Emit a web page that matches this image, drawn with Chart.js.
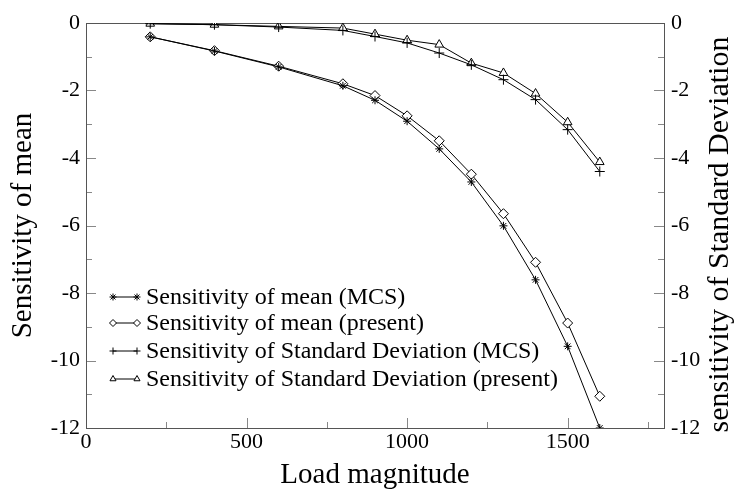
<!DOCTYPE html>
<html>
<head>
<meta charset="utf-8">
<script src="https://cdn.jsdelivr.net/npm/chart.js@4"></script>
<style>
  body { margin: 0; background: #fff; }
  #wrap { width: 736px; height: 495px; }
</style>
</head>
<body>
<div id="wrap"><canvas id="chart" width="736" height="495"></canvas></div>
<script>
const loads = [200, 400, 600, 800, 900, 1000, 1100, 1200, 1300, 1400, 1500, 1600];
const meanMCS = [-0.41, -0.83, -1.30, -1.86, -2.29, -2.91, -3.73, -4.71, -6.01, -7.61, -9.58, -12.0];
const meanPresent = [-0.41, -0.82, -1.28, -1.80, -2.15, -2.75, -3.49, -4.48, -5.65, -7.09, -8.89, -11.06];
const sdMCS = [-0.02, -0.05, -0.12, -0.22, -0.40, -0.59, -0.89, -1.24, -1.68, -2.27, -3.16, -4.40];
const sdPresent = [-0.02, -0.05, -0.10, -0.15, -0.33, -0.51, -0.64, -1.19, -1.48, -2.09, -2.94, -4.12];

const xTicks = [0, 500, 1000, 1500];
const yTicks = [-12, -10, -8, -6, -4, -2, 0];

const seriesLabels = [
  'Sensitivity of mean (MCS)',
  'Sensitivity of mean (present)',
  'Sensitivity of Standard Deviation (MCS)',
  'Sensitivity of Standard Deviation (present)'
];
const xTitle = 'Load magnitude';
const yTitle = 'Sensitivity of mean';
const y2Title = 'sensitivity of Standard Deviation';

const serif = "'Liberation Serif', 'DejaVu Serif', serif";

function pts(ys) {
  return loads.map((x, i) => ({ x: x, y: ys[i] }));
}

function makeSet(label, ys, style, radius, axis) {
  return {
    label: label,
    data: pts(ys),
    yAxisID: axis,
    borderColor: '#000',
    backgroundColor: '#fff',
    borderWidth: 1,
    pointStyle: style,
    pointRadius: radius,
    pointBorderColor: '#000',
    pointBackgroundColor: '#fff',
    pointBorderWidth: 1,
    tension: 0
  };
}

const datasets = [
  makeSet(seriesLabels[0], meanMCS, 'star', 4, 'y'),
  makeSet(seriesLabels[1], meanPresent, 'rectRot', 5, 'y'),
  makeSet(seriesLabels[2], sdMCS, 'cross', 5, 'y2'),
  makeSet(seriesLabels[3], sdPresent, 'triangle', 5, 'y2')
];

// frame, inward ticks, right title and the legend inside the plot
const decor = {
  id: 'decor',
  beforeDatasetsDraw(chart) {
    const ctx = chart.ctx;
    const a = chart.chartArea;
    const xs = chart.scales.x, ys = chart.scales.y;
    ctx.save();
    ctx.strokeStyle = '#888';
    ctx.lineWidth = 1;
    ctx.beginPath();
    for (let v = 250; v < 1800; v += 250) {
      const px = Math.round(xs.getPixelForValue(v)) + 0.5;
      const len = v % 500 === 0 ? 10 : 6;
      ctx.moveTo(px, a.bottom);
      ctx.lineTo(px, a.bottom - len);
    }
    for (let v = -11; v < 0; v++) {
      const py = Math.round(ys.getPixelForValue(v)) + 0.5;
      const len = v % 2 === 0 ? 10 : 6;
      ctx.moveTo(a.left, py);
      ctx.lineTo(a.left + len, py);
      ctx.moveTo(a.right, py);
      ctx.lineTo(a.right - len, py);
    }
    ctx.stroke();
    ctx.strokeStyle = '#555';
    ctx.strokeRect(Math.round(a.left) + 0.5, Math.round(a.top) + 0.5,
      Math.round(a.right - a.left), Math.round(a.bottom - a.top));
    ctx.restore();
  },
  afterDraw(chart) {
    const ctx = chart.ctx;
    const a = chart.chartArea;
    ctx.save();
    // right axis title, reading bottom to top
    ctx.translate(720, (a.top + a.bottom) / 2 + 9);
    ctx.rotate(-Math.PI / 2);
    ctx.fillStyle = '#000';
    ctx.font = '30px ' + serif;
    ctx.textAlign = 'center';
    ctx.textBaseline = 'middle';
    ctx.fillText(y2Title, 0, 0);
    ctx.restore();

    const rows = [297, 323, 351, 379];
    ctx.save();
    chart.data.datasets.forEach((ds, i) => {
      const y = rows[i];
      ctx.strokeStyle = '#000';
      ctx.fillStyle = '#fff';
      ctx.lineWidth = 1;
      ctx.beginPath();
      ctx.moveTo(113, y);
      ctx.lineTo(137, y);
      ctx.stroke();
      const opt = { pointStyle: ds.pointStyle, radius: 3.5, rotation: 0, borderWidth: 1 };
      Chart.helpers.drawPoint(ctx, opt, 113, y);
      Chart.helpers.drawPoint(ctx, opt, 137, y);
      ctx.fillStyle = '#000';
      ctx.font = '24px ' + serif;
      ctx.textAlign = 'left';
      ctx.textBaseline = 'middle';
      ctx.fillText(ds.label, 146, y + 1);
    });
    ctx.restore();
  }
};

const tickFont = { family: serif, size: 22 };
const plainNum = v => String(v);

new Chart(document.getElementById('chart').getContext('2d'), {
  type: 'line',
  data: { datasets: datasets },
  options: {
    responsive: false,
    animation: false,
    layout: { padding: { top: 23, left: 0, right: 0, bottom: 0 } },
    plugins: { legend: { display: false }, tooltip: { enabled: false } },
    scales: {
      x: {
        type: 'linear',
        min: 0,
        max: 1800,
        grid: { display: false, drawTicks: false },
        border: { display: false },
        afterBuildTicks(s) { s.ticks = xTicks.map(v => ({ value: v })); },
        ticks: { color: '#000', font: tickFont, padding: 1, maxRotation: 0, callback: plainNum },
        title: { display: true, text: xTitle, color: '#000', font: { family: serif, size: 29 }, padding: { top: 0, bottom: 2 } },
        afterFit(s) { s.height = 67; }
      },
      y: {
        position: 'left',
        min: -12,
        max: 0,
        grid: { display: false, drawTicks: false },
        border: { display: false },
        afterBuildTicks(s) { s.ticks = yTicks.map(v => ({ value: v })); },
        ticks: { color: '#000', font: tickFont, padding: 6, callback: plainNum },
        title: { display: true, text: yTitle, color: '#000', font: { family: serif, size: 29 }, padding: { top: 6, bottom: 0 } },
        afterFit(s) { s.width = 86; }
      },
      y2: {
        position: 'right',
        min: -12,
        max: 0,
        grid: { display: false, drawTicks: false },
        border: { display: false },
        afterBuildTicks(s) { s.ticks = yTicks.map(v => ({ value: v })); },
        ticks: { color: '#000', font: tickFont, padding: 7, callback: plainNum },
        afterFit(s) { s.width = 72; }
      }
    }
  },
  plugins: [decor]
});
</script>
</body>
</html>
